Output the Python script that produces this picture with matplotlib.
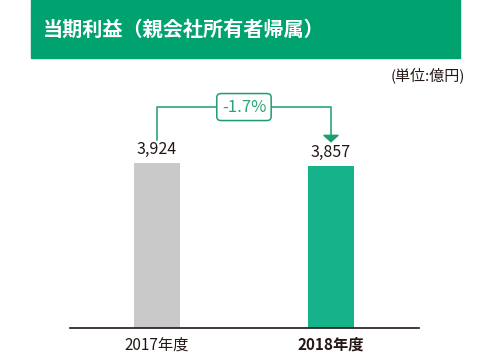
import matplotlib
matplotlib.use("Agg")
import matplotlib.pyplot as plt
from matplotlib.patches import Rectangle

plt.rcParams['font.family'] = ['Noto Sans CJK JP', 'DejaVu Sans']

title = "当期利益（親会社所有者帰属）"
unit = "(単位:億円)"
years = ["2017年度", "2018年度"]
values = [3924, 3857]
change = "-1.7%"

bar_colors = ["#C9C9CA", "#16B38A"]
green = "#00A26F"
line_green = "#1E9E6E"
ink = "#231815"

fig = plt.figure(figsize=(4.9, 3.56), dpi=100)

# green title band
fig.patches.append(Rectangle((31 / 490, 1 - 58 / 356), 429 / 490, 58 / 356,
                             transform=fig.transFigure, color=green, zorder=0))
fig.text(43 / 490, 1 - 29 / 356, title, color="white", fontsize=14.5,
         fontweight="bold", va="center", ha="left")
fig.text(465 / 490, 1 - 75 / 356, unit, color=ink, fontsize=10.8,
         va="center", ha="right")

ax = fig.add_axes([70 / 490, 28 / 356, 349 / 490, 268 / 356])
x = list(range(len(values)))
ax.bar(x, values, width=0.265, color=bar_colors, zorder=2)
ax.set_xlim(-0.5, 1.506)
ax.set_ylim(0, 6373)

for xi, v in zip(x, values):
    ax.text(xi, v + 120, f"{v:,}", ha="center", va="bottom", fontsize=11.5, color=ink)

ax.set_xticks(x)
ax.set_xticklabels(years, fontsize=11, color=ink)
ax.get_xticklabels()[1].set_fontweight("bold")
ax.tick_params(axis="x", length=0, pad=6)
ax.set_yticks([])
for s in ["top", "right", "left"]:
    ax.spines[s].set_visible(False)
ax.spines["bottom"].set_color(ink)
ax.spines["bottom"].set_linewidth(1.2)

# change bracket
top = max(values) * 1.339
gap = 550
ax.plot([x[0], x[0], x[1], x[1]], [values[0] + gap, top, top, values[1] + gap + 150],
        color=line_green, lw=1.1, zorder=3)
ax.annotate("", xy=(x[1], values[1] + gap), xytext=(x[1], values[1] + gap + 160),
            arrowprops=dict(arrowstyle="-|>,head_length=0.45,head_width=0.5",
                            color=line_green, lw=1.1, shrinkA=0, shrinkB=0))
ax.text((x[0] + x[1]) / 2, top, change, ha="center", va="center", fontsize=12,
        color="#2AA674", zorder=4,
        bbox=dict(boxstyle="round,pad=0.3,rounding_size=0.25", fc="white",
                  ec=line_green, lw=1.1))

fig.savefig("out.png", dpi=100)
